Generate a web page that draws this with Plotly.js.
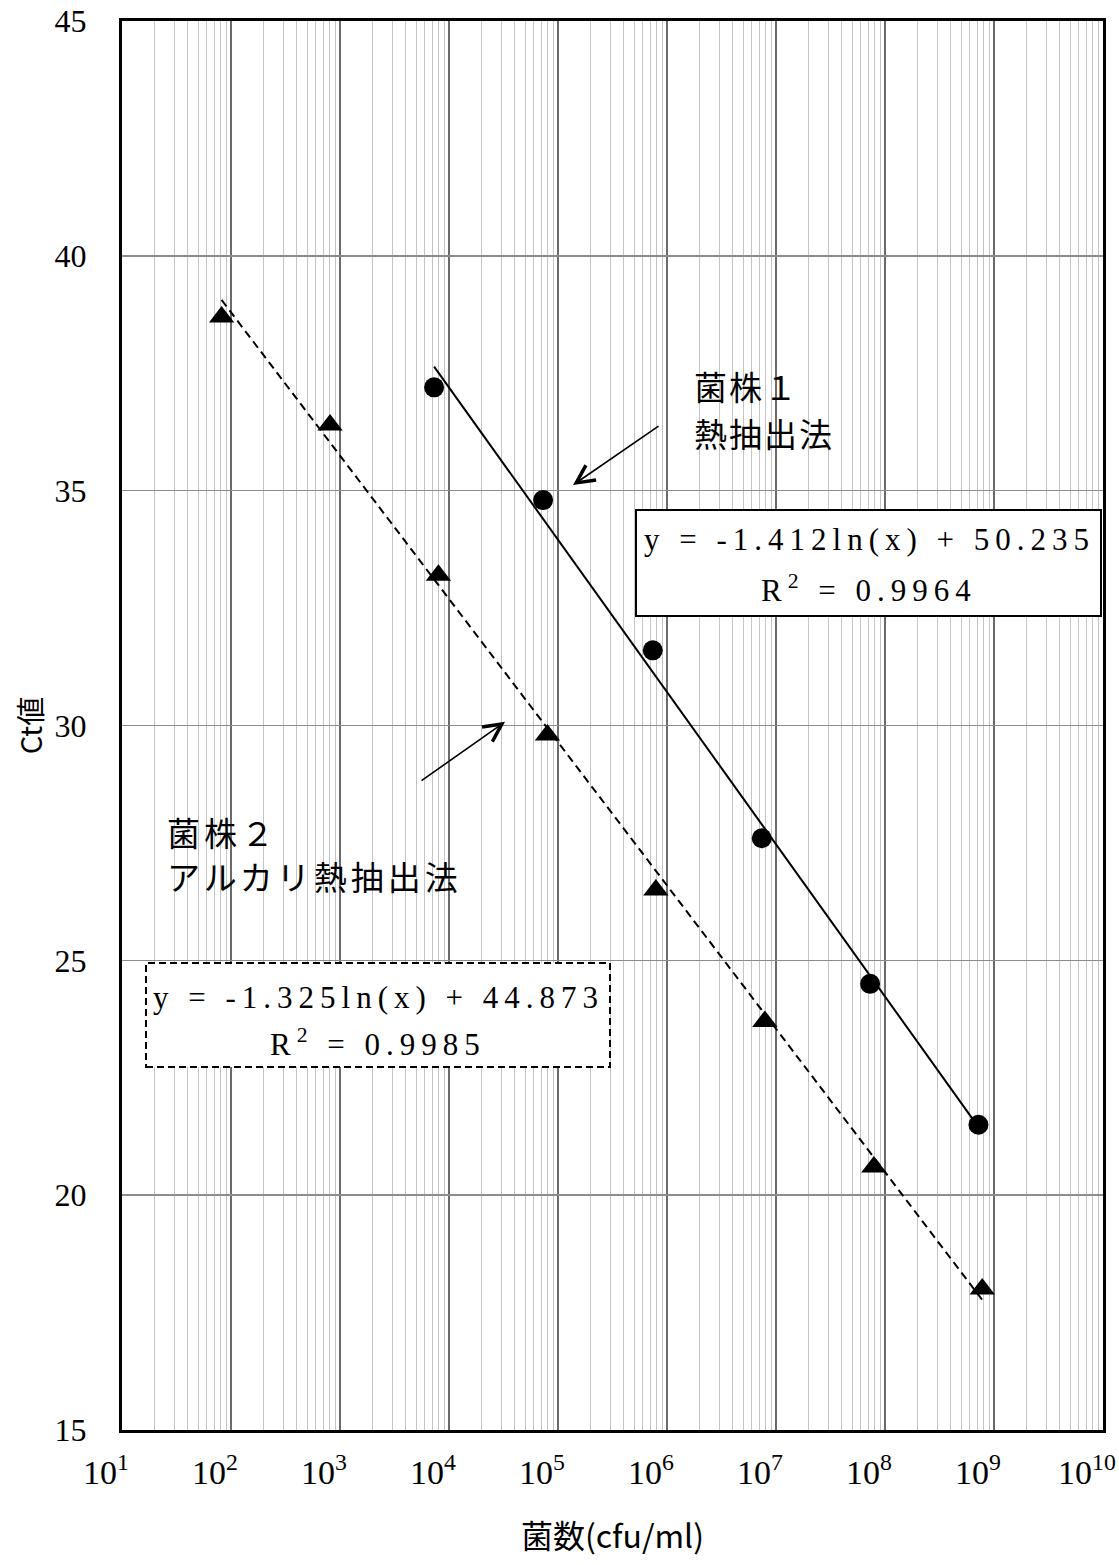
<!DOCTYPE html>
<html>
<head>
<meta charset="utf-8">
<script src="https://cdn.plot.ly/plotly-3.0.1.min.js"></script>
<style>
html,body{margin:0;padding:0;background:#fff;}
.annotation[data-index="4"] text,.annotation[data-index="5"] text,
.annotation[data-index="6"] text,.annotation[data-index="7"] text{letter-spacing:6px;}
.annotation[data-index="0"] text,.annotation[data-index="1"] text{letter-spacing:2px;}
.annotation[data-index="2"] text,.annotation[data-index="3"] text{letter-spacing:4px;}
</style>
</head>
<body>
<div id="chart" style="width:1119px;height:1565px;"></div>
<script>
// Strain 1 (heat extraction) — circles
var strain1X = [7.3e3, 7.3e4, 7.4e5, 7.4e6, 7.3e7, 7.2e8];
var strain1Y = [37.2, 34.8, 31.6, 27.6, 24.5, 21.5];
// Strain 2 (alkaline heat extraction) — triangles
var strain2X = [82, 810, 8.0e3, 8.0e4, 7.9e5, 7.9e6, 7.9e7, 7.8e8];
var strain2Y = [38.7, 36.4, 33.2, 29.8, 26.5, 23.7, 20.6, 18.0];
// Trendline end points
var trend1X = [7.3e3, 7.2e8];
var trend1Y = [37.64, 21.45];
var trend2X = [82, 7.8e8];
var trend2Y = [39.06, 17.77];
// Axis ticks
var xTickVals = [1e1, 1e2, 1e3, 1e4, 1e5, 1e6, 1e7, 1e8, 1e9, 1e10];
var xTickText = ['10<sup>1</sup>','10<sup>2</sup>','10<sup>3</sup>','10<sup>4</sup>','10<sup>5</sup>',
                 '10<sup>6</sup>','10<sup>7</sup>','10<sup>8</sup>','10<sup>9</sup>','10<sup>10</sup>'];
var yTickVals = [15, 20, 25, 30, 35, 40, 45];
// Labels
var label1 = ['菌株１', '熱抽出法'];
var label2 = ['菌株２', 'アルカリ熱抽出法'];
var eq1 = ['y = -1.412ln(x) + 50.235', 'R<sup>2</sup> = 0.9964'];
var eq2 = ['y = -1.325ln(x) + 44.873', 'R<sup>2</sup> = 0.9985'];

var serif = '"Liberation Serif", "Times New Roman", serif';
var cjk = '"Noto Sans CJK JP", sans-serif';

var traces = [
  {x: trend2X, y: trend2Y, mode: 'lines', line: {color: '#000', width: 2, dash: '8px,5px'}, showlegend: false, hoverinfo: 'skip'},
  {x: trend1X, y: trend1Y, mode: 'lines', line: {color: '#000', width: 2}, showlegend: false, hoverinfo: 'skip'},
  {x: strain2X, y: strain2Y, mode: 'markers', name: '菌株２', marker: {symbol: 'triangle-up', size: 22, color: '#000'}, showlegend: false},
  {x: strain1X, y: strain1Y, mode: 'markers', name: '菌株１', marker: {symbol: 'circle', size: 20, color: '#000'}, showlegend: false}
];

// pixel helpers for paper coordinates of overlay boxes
var L = 122, R = 1103, T = 21, B = 1430;
function px(x){ return (x - L) / (R - L); }
function py(y){ return (B - y) / (B - T); }

function txt(x, y, s, font, anchor){
  return {xref: 'paper', yref: 'paper', x: px(x), y: py(y), xanchor: anchor, yanchor: 'middle',
          align: anchor, text: s, showarrow: false, font: font};
}
var cjkFont = {family: cjk, size: 33, color: '#000'};
var eqFont = {family: serif, size: 31, color: '#000'};

var layout = {
  width: 1119, height: 1565,
  margin: {l: L, r: 1119 - R, t: T, b: 1565 - B},
  paper_bgcolor: '#fff', plot_bgcolor: '#fff',
  showlegend: false,
  xaxis: {
    type: 'log', range: [1, 10],
    tickmode: 'array', tickvals: xTickVals, ticktext: xTickText,
    showgrid: true, gridcolor: '#6a6a6a', gridwidth: 1.5,
    minor: {dtick: 'D1', showgrid: true, gridcolor: '#c4c4c4', gridwidth: 1, ticks: ''},
    showline: true, mirror: true, linecolor: '#000', linewidth: 3,
    zeroline: false, ticks: '',
    ticklabelshift: -16, ticklabelstandoff: 10,
    tickfont: {family: serif, size: 34, color: '#000'},
    title: {text: '菌数(cfu/ml)', font: {family: cjk, size: 32, color: '#000'}, standoff: 36}
  },
  yaxis: {
    range: [15, 45], tickmode: 'array', tickvals: yTickVals,
    showgrid: true, gridcolor: '#8c8c8c', gridwidth: 1.5,
    showline: true, mirror: true, linecolor: '#000', linewidth: 3,
    zeroline: false, ticks: '', ticklabelstandoff: 26,
    tickfont: {family: serif, size: 32, color: '#000'},
    title: {text: 'Ct値', font: {family: cjk, size: 29, color: '#000'}, standoff: 4}
  },
  shapes: [
    // white backgrounds behind the strain labels
    {type: 'rect', xref: 'paper', yref: 'paper', x0: px(665), x1: px(860), y0: py(460), y1: py(352),
     fillcolor: '#fff', line: {width: 0}, layer: 'between'},
    {type: 'rect', xref: 'paper', yref: 'paper', x0: px(145), x1: px(558), y0: py(905), y1: py(793),
     fillcolor: '#fff', line: {width: 0}, layer: 'between'},
    // equation boxes
    {type: 'rect', xref: 'paper', yref: 'paper', x0: px(636), x1: px(1101), y0: py(616), y1: py(510),
     fillcolor: '#fff', line: {color: '#000', width: 2}, layer: 'above'},
    {type: 'rect', xref: 'paper', yref: 'paper', x0: px(146), x1: px(610), y0: py(1067), y1: py(963),
     fillcolor: '#fff', line: {color: '#000', width: 2, dash: '7px,4px'}, layer: 'above'}
  ],
  annotations: [
    txt(692, 386, label1[0], cjkFont, 'left'),
    txt(692, 433, label1[1], cjkFont, 'left'),
    txt(165, 832, label2[0], cjkFont, 'left'),
    txt(165, 876, label2[1], cjkFont, 'left'),
    txt(869, 540, eq1[0], eqFont, 'center'),
    txt(869, 588, eq1[1], eqFont, 'center'),
    txt(378, 997, eq2[0], eqFont, 'center'),
    txt(378, 1042, eq2[1], eqFont, 'center'),
    // arrows
    {xref: 'x', yref: 'y', x: 5.138, y: 35.12, ax: 87, ay: -60, axref: 'pixel', ayref: 'pixel', text: '',
     showarrow: true, arrowhead: 5, arrowsize: 2.2, arrowwidth: 1.6, arrowcolor: '#000'},
    {xref: 'x', yref: 'y', x: 4.514, y: 30.08, ax: -85, ay: 60, axref: 'pixel', ayref: 'pixel', text: '',
     showarrow: true, arrowhead: 5, arrowsize: 2.2, arrowwidth: 1.6, arrowcolor: '#000'}
  ]
};

Plotly.newPlot('chart', traces, layout, {displayModeBar: false, staticPlot: true});
</script>
</body>
</html>
